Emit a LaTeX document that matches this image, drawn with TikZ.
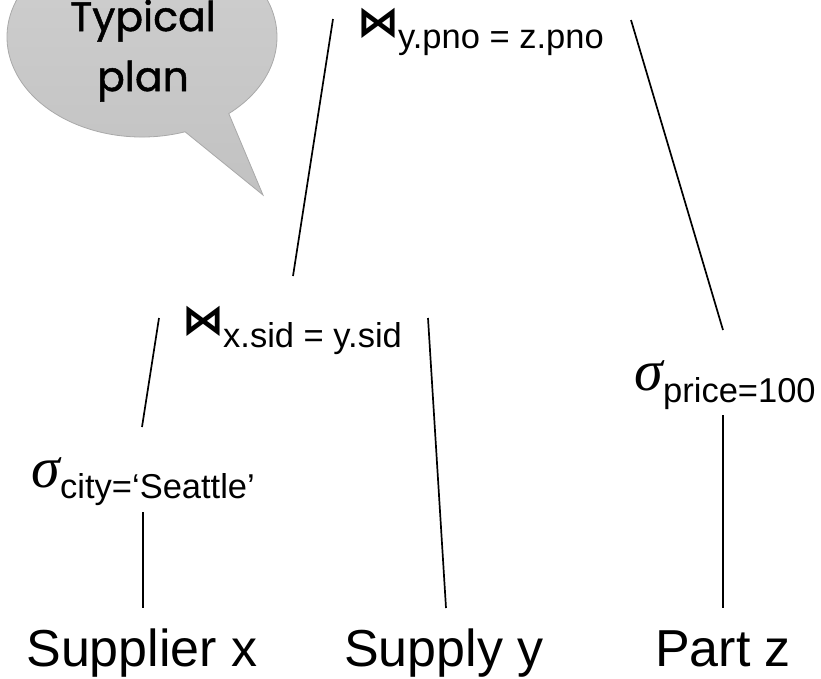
\documentclass[tikz,border=0pt]{standalone}
\usepackage{fontspec}
\setmainfont{Liberation Sans}
\newfontfamily\bubblefont[FakeBold=1.2]{Poppins}
\newfontfamily\opfont{DejaVu Sans}
\newfontfamily\selfont{Liberation Serif}
\usetikzlibrary{positioning,calc}

\definecolor{bubbleedge}{HTML}{A9A9A9}

\tikzset{
  relname/.style   ={font=\fontsize{52}{60}\selectfont, inner sep=0pt, anchor=base},
  joinsym/.style   ={font=\opfont\bfseries\fontsize{42}{42}\selectfont, inner sep=0pt, anchor=base west},
  selsym/.style    ={font=\selfont\itshape\fontsize{58}{58}\selectfont, inner sep=0pt, anchor=base east},
  cond/.style      ={font=\fontsize{34.5}{40}\selectfont, inner sep=0pt, anchor=base west},
  treeline/.style  ={line width=1.7pt, black},
  bubble/.style    ={top color=gray!37, bottom color=gray!48, draw=bubbleedge, line width=0.8pt},
  bubbletext/.style={font=\bubblefont\fontsize{41}{60}\selectfont, inner sep=0pt, anchor=base}
}

\begin{document}
\begin{tikzpicture}[x=1pt, y=-1pt]
    \useasboundingbox (0,0) rectangle (821,678);

    % speech bubble
    \coordinate (bc) at (142,37);
    \coordinate (tip) at (263,195);
    \path[bubble] (tip) -- ($(bc)+(71.4:135 and 100)$)
        arc[start angle=71.4, end angle=410, x radius=135, y radius=100] -- cycle;
    \node[bubbletext] (typ) at (143,31) {Typical};
    \node[bubbletext] (pln) at ([yshift=-60pt]typ.base) {plan};

    % top join
    \node[joinsym] (tj) at (357,36) {⋈};
    \node[cond] (tjc) at (398,48) {y.pno = z.pno};

    % middle join
    \node[joinsym] (mj) at (182,334) {⋈};
    \node[cond] (mjc) at (223,347) {x.sid = y.sid};

    % selections
    \node[selsym] (sc) at (60,487) {σ};
    \node[cond] (scc) at ([yshift=-11pt]sc.base east) {city=‘Seattle’};
    \node[selsym] (sp) at (663,390) {σ};
    \node[cond] (spc) at ([yshift=-12pt]sp.base east) {price=100};

    % relations
    \node[relname] (supx) at (142,666) {Supplier x};
    \node[relname] (supy) at (444,666) {Supply y};
    \node[relname] (partz) at (723,666) {Part z};

    % connectors
    \coordinate (tj-l) at (333,19);  \coordinate (mj-top) at (293,276);
    \coordinate (tj-r) at (631,20);  \coordinate (sp-top) at (723,330);
    \coordinate (mj-l) at (159,318); \coordinate (sc-top) at (142,427);
    \coordinate (mj-r) at (428,318); \coordinate (supy-top) at (446,608);
    \coordinate (sc-bot) at (143,512); \coordinate (supx-top) at (143,608);
    \coordinate (sp-bot) at (723,415); \coordinate (partz-top) at (723,608);
    \draw[treeline] (tj-l) -- (mj-top);
    \draw[treeline] (tj-r) -- (sp-top);
    \draw[treeline] (mj-l) -- (sc-top);
    \draw[treeline] (mj-r) -- (supy-top);
    \draw[treeline] (sc-bot) -- (supx-top);
    \draw[treeline] (sp-bot) -- (partz-top);
\end{tikzpicture}
\end{document}
